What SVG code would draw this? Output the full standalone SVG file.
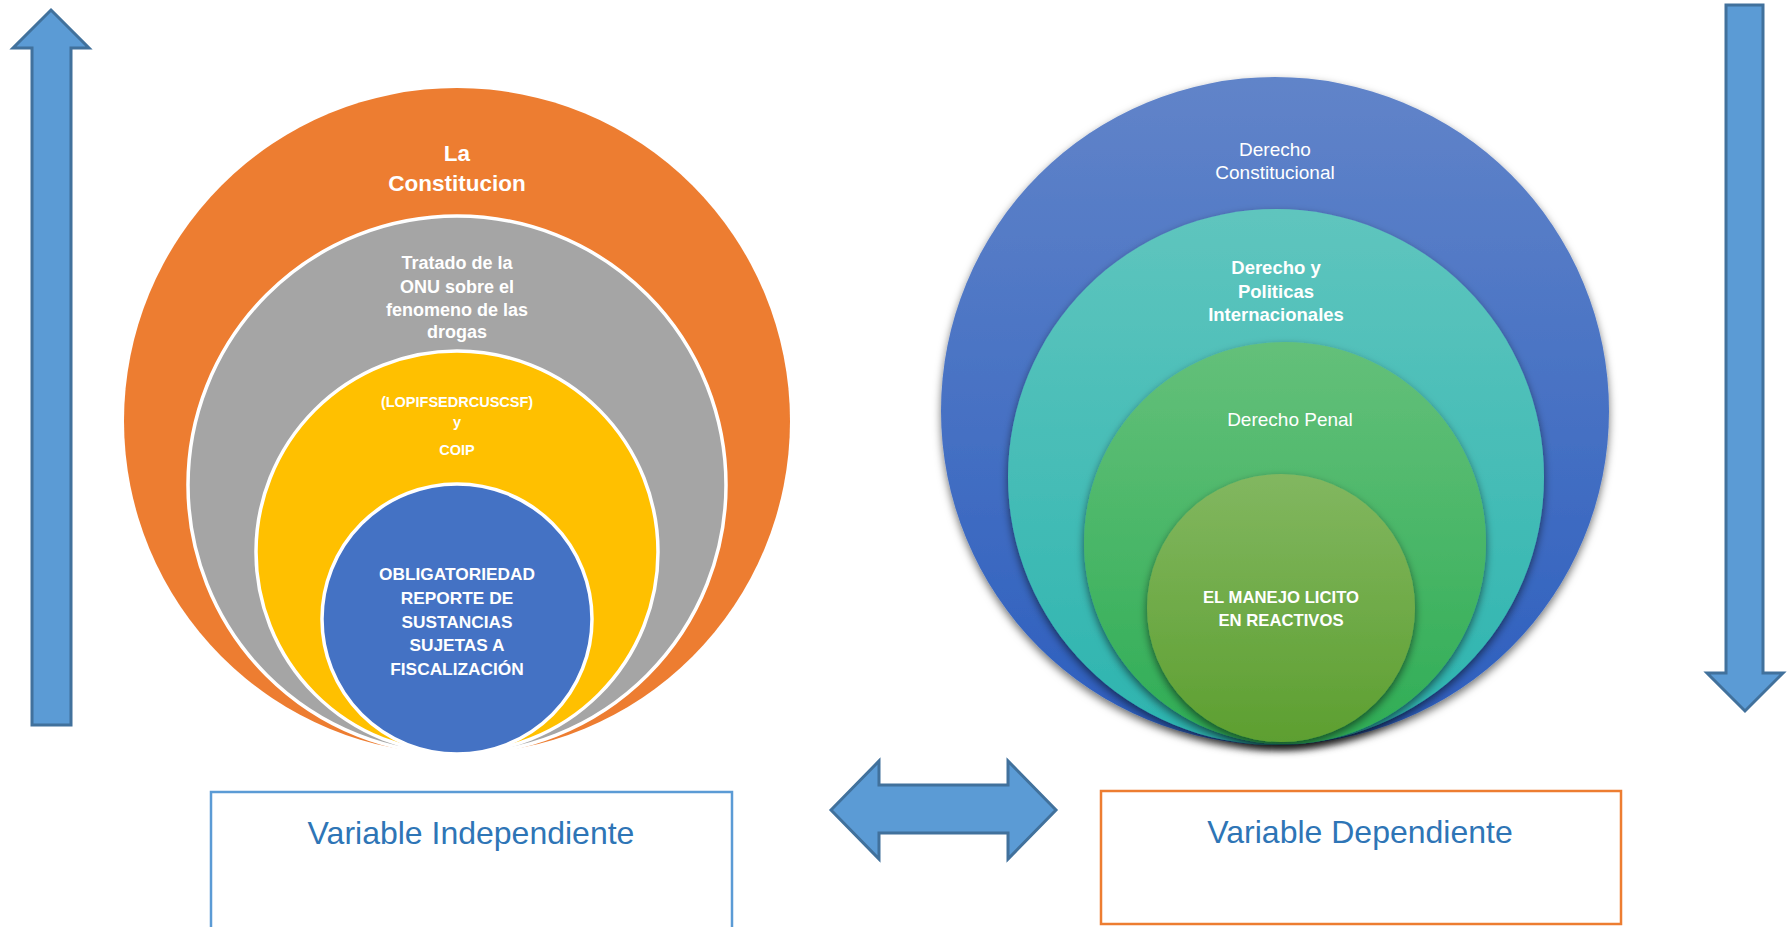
<svg xmlns="http://www.w3.org/2000/svg" width="1788" height="927" viewBox="0 0 1788 927">
<style>
.arrow{fill:#5b9bd5;stroke:#41719c;stroke-width:3;stroke-linejoin:miter}
.ring{stroke:#ffffff;stroke-width:3.5}
.t{font-family:"Liberation Sans",Arial,sans-serif;fill:#ffffff;text-anchor:middle}
.b{font-weight:bold}
.lbl{font-family:"Liberation Sans",Arial,sans-serif;fill:#2e75b6;text-anchor:middle;font-size:32px}
</style>
<defs>
<linearGradient id="gBlue" x1="0" y1="0" x2="0" y2="1"><stop offset="0" stop-color="#6184c9"/><stop offset="1" stop-color="#2c5ebe"/></linearGradient>
<linearGradient id="gTeal" x1="0" y1="0" x2="0" y2="1"><stop offset="0" stop-color="#5fc5be"/><stop offset="1" stop-color="#2cb4af"/></linearGradient>
<linearGradient id="gGreen" x1="0" y1="0" x2="0" y2="1"><stop offset="0" stop-color="#64c07a"/><stop offset="1" stop-color="#2fad55"/></linearGradient>
<linearGradient id="gLime" x1="0" y1="0" x2="0" y2="1"><stop offset="0" stop-color="#82b760"/><stop offset="1" stop-color="#5d9f30"/></linearGradient>
<filter id="sh" x="-20%" y="-20%" width="140%" height="140%"><feDropShadow dx="0" dy="4" stdDeviation="4" flood-color="#000" flood-opacity="0.55"/></filter>
</defs>

<g id="connectors">
<polygon id="arrow-up" class="arrow" points="51,10 89,48 71,48 71,725 32,725 32,48 13,48"/>
<polygon id="arrow-down" class="arrow" points="1726,5 1763,5 1763,673 1783,673 1745,711 1707,673 1726,673"/>
<polygon id="arrow-both" class="arrow" points="831,810 879,761 879,785 1008,785 1008,761 1056,810 1008,859 1008,833 879,833 879,859"/>
</g>

<g id="left-circles">
<g id="n-constitucion">
<circle cx="457" cy="421" r="333" fill="#ed7d31"/>
<text class="t b" x="457" y="161" font-size="22.5">La</text>
<text class="t b" x="457" y="191" font-size="22.5">Constitucion</text>
</g>
<g id="n-onu">
<circle class="ring" cx="457" cy="485" r="269" fill="#a5a5a5"/>
<text class="t b" x="457" y="269" font-size="18">Tratado de la</text>
<text class="t b" x="457" y="293" font-size="18">ONU sobre el</text>
<text class="t b" x="457" y="316" font-size="18">fenomeno de las</text>
<text class="t b" x="457" y="338" font-size="18">drogas</text>
</g>
<g id="n-lopif">
<circle class="ring" cx="457" cy="552" r="201" fill="#ffc000"/>
<text class="t b" x="457" y="407" font-size="14.5">(LOPIFSEDRCUSCSF)</text>
<text class="t b" x="457" y="427" font-size="14.5">y</text>
<text class="t b" x="457" y="455" font-size="14.5">COIP</text>
</g>
<g id="n-obligatoriedad">
<circle class="ring" cx="457" cy="619" r="135" fill="#4472c4"/>
<text class="t b" x="457" y="580" font-size="17.3">OBLIGATORIEDAD</text>
<text class="t b" x="457" y="604" font-size="17.3">REPORTE DE</text>
<text class="t b" x="457" y="628" font-size="17.3">SUSTANCIAS</text>
<text class="t b" x="457" y="651" font-size="17.3">SUJETAS A</text>
<text class="t b" x="457" y="675" font-size="17.3">FISCALIZACIÓN</text>
</g>
</g>

<g id="right-circles">
<g id="n-constitucional">
<circle cx="1275" cy="411" r="334" fill="url(#gBlue)" filter="url(#sh)"/>
<text class="t" x="1275" y="156" font-size="19">Derecho</text>
<text class="t" x="1275" y="179" font-size="19">Constitucional</text>
</g>
<g id="n-internacionales">
<circle cx="1276" cy="477" r="268" fill="url(#gTeal)" filter="url(#sh)"/>
<text class="t b" x="1276" y="274" font-size="18.5">Derecho y</text>
<text class="t b" x="1276" y="298" font-size="18.5">Politicas</text>
<text class="t b" x="1276" y="321" font-size="18.5">Internacionales</text>
</g>
<g id="n-penal">
<circle cx="1285" cy="543" r="201" fill="url(#gGreen)" filter="url(#sh)"/>
<text class="t" x="1290" y="426" font-size="19">Derecho Penal</text>
</g>
<g id="n-manejo">
<circle cx="1281" cy="608" r="134" fill="url(#gLime)" filter="url(#sh)"/>
<text class="t b" x="1281" y="603" font-size="16.7">EL MANEJO LICITO</text>
<text class="t b" x="1281" y="626" font-size="16.7">EN REACTIVOS</text>
</g>
</g>

<g id="n-var-independiente">
<rect x="211" y="792" width="521" height="150" fill="#ffffff" stroke="#5b9bd5" stroke-width="2.5"/>
<text class="lbl" x="471" y="844">Variable Independiente</text>
</g>
<g id="n-var-dependiente">
<rect x="1101" y="791" width="520" height="133" fill="#ffffff" stroke="#ed7d31" stroke-width="2.5"/>
<text class="lbl" x="1360" y="843">Variable Dependiente</text>
</g>
</svg>
